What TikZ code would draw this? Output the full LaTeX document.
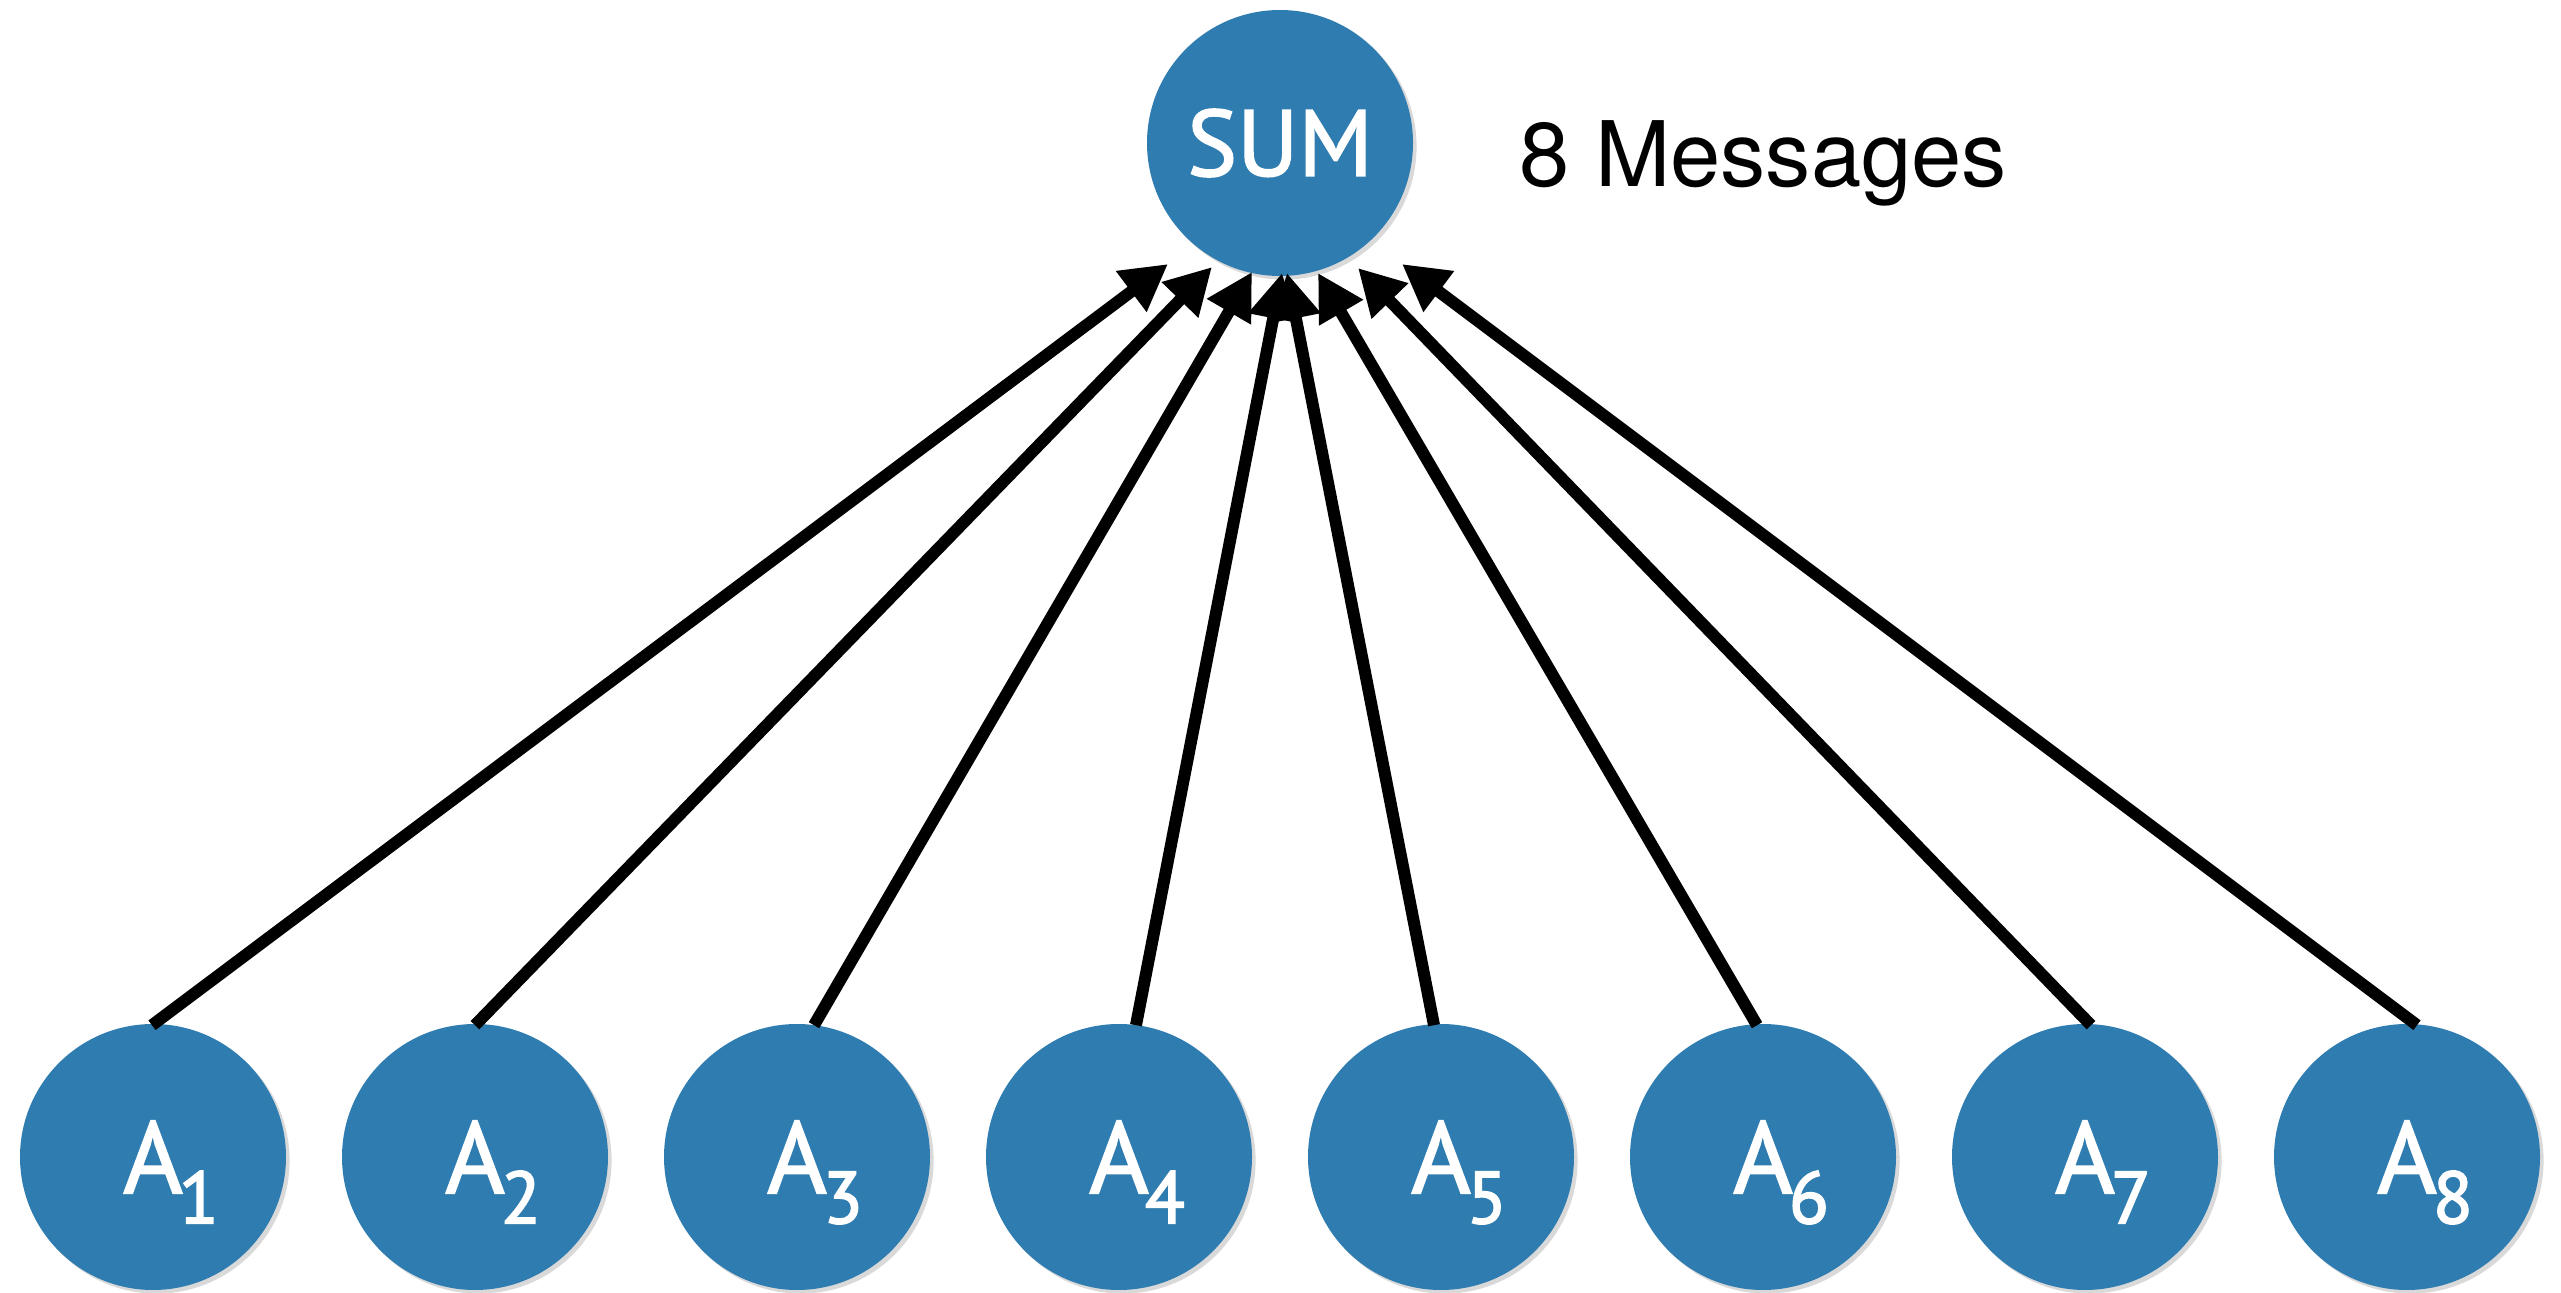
\documentclass[tikz,border=0pt]{standalone}
\usepackage{fontspec}
\setmainfont{PT Sans}
\newfontfamily\notefont{TeX Gyre Heros}
\usetikzlibrary{arrows.meta,shadows}
\definecolor{nodeblue}{RGB}{47,125,176}
% white text filled and stroked, for a slightly heavier face
\newcommand\heavytext[1]{\special{pdf:code q 2 Tr 0.4 w 1 1 1 RG}#1\special{pdf:code Q}}
% agent label: large A with a big lowered index that hangs to the right
\newcommand\agentlabel[1]{\heavytext{A}\rlap{\kern-1pt\smash{\raisebox{-7.5pt}{\fontsize{18.4}{18.4}\selectfont\heavytext{#1}}}}}
\begin{document}
\begin{tikzpicture}[x=0.25pt,y=-0.25pt,
  blob/.style={circle,fill=nodeblue,draw=none,inner sep=0pt,minimum size=66.5pt,
    text=white,drop shadow={shadow xshift=0.9pt,shadow yshift=-0.9pt,opacity=0.15,fill=black}},
  msg/.style={line width=3pt,draw=black,-{Triangle[length=11.5pt,width=12pt]}}]
\useasboundingbox (0,0) rectangle (2561,1293);

% aggregating node and its note
\node[blob,font=\fontsize{23.5}{23.5}\selectfont] (sum) at (1280,143) {\heavytext{SUM}};
\node[anchor=base west,inner sep=0pt,font=\notefont\fontsize{22.6}{22.6}\selectfont] (note) at (1519,187) {8 Messages};

% the eight agents
\foreach \i in {1,...,8}{
  \node[blob,font=\fontsize{25.5}{25.5}\selectfont] (a\i) at ({153+322*(\i-1)},1157) {\agentlabel{\i}};
}

% arrow tips below the SUM node
\coordinate (t1) at (1168,264);
\coordinate (t2) at (1212,267);
\coordinate (t3) at (1252,272);
\coordinate (t4) at (1282,273);
\coordinate (t5) at (1287,273);
\coordinate (t6) at (1318,273);
\coordinate (t7) at (1358,268);
\coordinate (t8) at (1402,264);

% one message from every agent
\draw[msg] ([shift={(-1,2)}]a1.north) -- (t1);
\draw[msg] ([shift={(0,2)}]a2.north) -- (t2);
\draw[msg] ([shift={(17,2)}]a3.north) -- (t3);
\draw[msg] ([shift={(17,2)}]a4.north) -- (t4);
\draw[msg] ([shift={(-7,2)}]a5.north) -- (t5);
\draw[msg] ([shift={(-6,2)}]a6.north) -- (t6);
\draw[msg] ([shift={(6,2)}]a7.north) -- (t7);
\draw[msg] ([shift={(10,2)}]a8.north) -- (t8);
\end{tikzpicture}
\end{document}
